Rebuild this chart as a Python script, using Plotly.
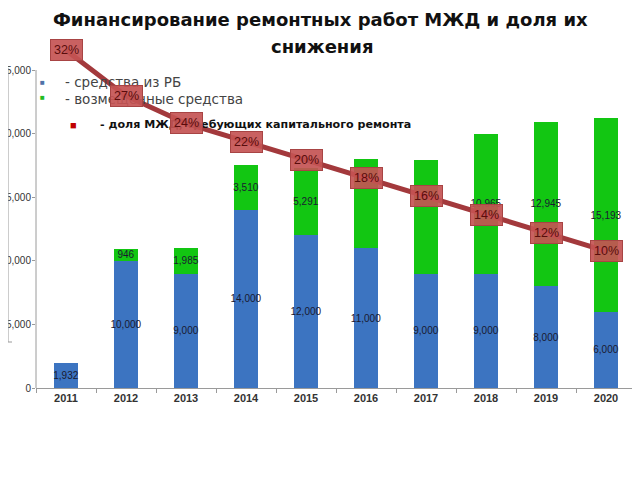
import plotly.graph_objects as go

years = ["2011", "2012", "2013", "2014", "2015", "2016", "2017", "2018", "2019", "2020"]
rb_funds = [1932, 10000, 9000, 14000, 12000, 11000, 9000, 9000, 8000, 6000]
returned_funds = [0, 946, 1985, 3510, 5291, 7000, 8900, 10965, 12945, 15193]
rb_labels = ["1,932", "10,000", "9,000", "14,000", "12,000", "11,000", "9,000", "9,000", "8,000", "6,000"]
returned_labels = ["", "946", "1,985", "3,510", "5,291", "", "", "10,965", "12,945", "15,193"]
share_pct = [32, 27, 24, 22, 20, 18, 16, 14, 12, 10]
y_ticks = [0, 5000, 10000, 15000, 20000, 25000]

W, H = 640, 480
OFF = 8  # page offset of the figure inside the browser window
PL, PR, PT, PB = 36, 636, 40, 388
L = PL - OFF
T = PT - OFF
R = W - (PR - OFF)
B = H - (PB - OFF)
plot_h = PB - PT
plot_w = PR - PL
px_per_unit = (388 - 70) / 25000.0
y_top = plot_h / px_per_unit
# secondary (percent) axis: 9.13 px per percent, 19.5% at y=164.4
p_px = 9.13
p_ref, y_ref = 19.5, 164.4
y2_low = p_ref - (PB - y_ref) / p_px
y2_high = p_ref + (y_ref - PT) / p_px

FONT = "Liberation Sans, Arial, sans-serif"
DFONT = "DejaVu Sans, Verdana, sans-serif"


def px_x(px):
    return (px - PL) / plot_w


def px_y(py):
    return (PB - py) / plot_h


fig = go.Figure()
fig.add_trace(go.Bar(
    x=years, y=rb_funds, name="- средства из РБ",
    marker=dict(color="#3c74c1", line=dict(width=0)),
    text=rb_labels, textposition="inside",
    insidetextanchor="middle", textangle=0, constraintext="none",
    textfont=dict(family=FONT, size=10, color="#1a1a30"),
))
fig.add_trace(go.Bar(
    x=years, y=returned_funds, name="- возмещенные средства",
    marker=dict(color="#12c612", line=dict(width=0)),
    text=returned_labels, textposition="inside",
    insidetextanchor="middle", textangle=0, constraintext="none",
    textfont=dict(family=FONT, size=10, color="#1a1a30"),
))
fig.add_trace(go.Scatter(
    x=years, y=share_pct, yaxis="y2", mode="lines",
    line=dict(color="#a3393c", width=5),
    name="- доля МЖД, требующих капитального ремонта",
))

annotations = [
    dict(x=px_x(320), y=px_y(20), xref="paper", yref="paper",
         text="<b>Финансирование ремонтных работ МЖД и доля их</b>",
         showarrow=False, font=dict(family=DFONT, size=18, color="#111111"),
         xanchor="center", yanchor="middle"),
    dict(x=px_x(322), y=px_y(46), xref="paper", yref="paper",
         text="<b>снижения</b>",
         showarrow=False, font=dict(family=DFONT, size=18, color="#111111"),
         xanchor="center", yanchor="middle"),
    dict(x=px_x(42), y=px_y(82), xref="paper", yref="paper", text="■", showarrow=False,
         font=dict(size=8, color="#4f73a8", family=FONT), xanchor="center", yanchor="middle"),
    dict(x=px_x(63), y=px_y(82), xref="paper", yref="paper", text="- средства из РБ", showarrow=False,
         font=dict(size=13.5, color="#444444", family=DFONT), xanchor="left", yanchor="middle"),
    dict(x=px_x(42), y=px_y(98), xref="paper", yref="paper", text="■", showarrow=False,
         font=dict(size=8, color="#22bb22", family=FONT), xanchor="center", yanchor="middle"),
    dict(x=px_x(63), y=px_y(99), xref="paper", yref="paper", text="- возмещенные средства", showarrow=False,
         font=dict(size=13.5, color="#444444", family=DFONT), xanchor="left", yanchor="middle"),
    dict(x=px_x(73), y=px_y(125), xref="paper", yref="paper", text="■", showarrow=False,
         font=dict(size=11, color="#c00000", family=FONT), xanchor="center", yanchor="middle"),
    dict(x=px_x(98), y=px_y(124), xref="paper", yref="paper",
         text="<b>- доля МЖД, требующих капитального ремонта</b>", showarrow=False,
         font=dict(size=11.1, color="#111111", family=DFONT), xanchor="left", yanchor="middle"),
]
for i, p in enumerate(share_pct):
    annotations.append(dict(
        x=i, y=p, xref="x", yref="y2", text=f"{p}%", showarrow=False,
        font=dict(size=12.5, color="#5a0c0c", family=FONT),
        bgcolor="rgba(196,84,84,0.92)", bordercolor="#a84444", borderwidth=1, borderpad=3,
        xanchor="center", yanchor="middle",
    ))

shapes = [
    dict(type="line", xref="paper", yref="y", x0=0, x1=0, y0=0, y1=25000,
         line=dict(color="#9a9a9a", width=1)),
    dict(type="line", xref="paper", yref="paper", x0=px_x(8), x1=px_x(8),
         y0=px_y(342), y1=px_y(68), line=dict(color="#9a9a9a", width=1)),
    dict(type="line", xref="paper", yref="paper", x0=px_x(8), x1=px_x(12),
         y0=px_y(342), y1=px_y(342), line=dict(color="#9a9a9a", width=1)),
]

fig.update_layout(
    width=W, height=H,
    margin=dict(l=L, r=R, t=T, b=B, autoexpand=False),
    paper_bgcolor="white", plot_bgcolor="white",
    barmode="stack", bargap=0.6,
    showlegend=False,
    xaxis=dict(type="category", range=[-0.5, len(years) - 0.5], showline=True,
               linecolor="#9a9a9a", linewidth=1,
               ticks="outside", tickson="boundaries", ticklen=4, tickcolor="#9a9a9a",
               tickfont=dict(family=FONT, size=11, color="#333333", weight="bold"),
               showgrid=False),
    yaxis=dict(range=[0, y_top], tickvals=y_ticks,
               tickformat=",", showgrid=False, showline=False, zeroline=False,
               ticks="outside", ticklen=3, tickcolor="#9a9a9a", ticklabelstandoff=-1,
               tickfont=dict(family=FONT, size=10, color="#333333")),
    yaxis2=dict(range=[y2_low, y2_high], overlaying="y", side="right", visible=False),
    annotations=annotations, shapes=shapes,
    font=dict(family=FONT),
)

fig.write_html("out.html")
